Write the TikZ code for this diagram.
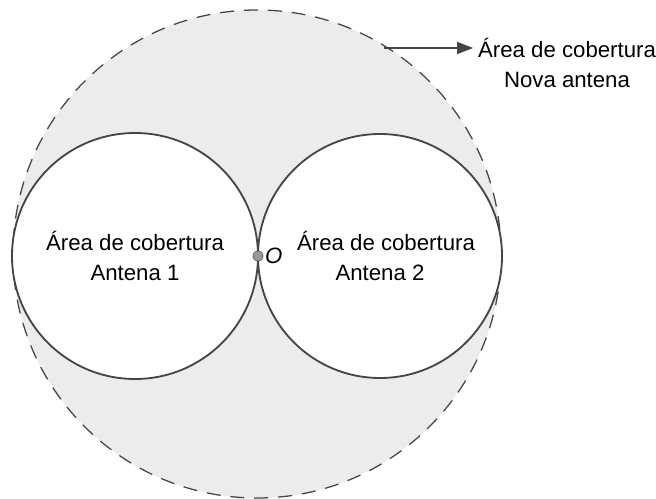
\documentclass[tikz,border=0pt]{standalone}
\usepackage{fontspec}
\setmainfont{Liberation Sans}
\usetikzlibrary{arrows.meta}
\definecolor{linegray}{HTML}{454545}
\definecolor{areagray}{HTML}{ECECEC}

\begin{document}
\begin{tikzpicture}[font=\fontsize{15.8}{21}\selectfont]
      \useasboundingbox (0,0) rectangle (16.4,-12.475);

      \node[circle, draw=linegray, dashed, dash pattern=on 10pt off 7pt, line width=0.9pt, fill=areagray, minimum size=12.2cm, inner sep=0pt] (nova) at (6.425,-6.35) {};
      \node[circle, draw=linegray, line width=1.3pt, fill=white, minimum size=6.15cm, inner sep=0pt, align=center] (ant1) at (3.375,-6.4) {Área de cobertura\\Antena 1};
      \node[circle, draw=linegray, line width=1.3pt, fill=white, minimum size=6.1cm, inner sep=0pt, align=center] (ant2) at (9.5,-6.4) {\hspace{0.3cm}Área de cobertura\\Antena 2};
      \node[circle, draw=linegray, fill=gray!80, inner sep=0pt, minimum size=2.6mm, label={[inner sep=1pt]right:\textit{O}}] (o) at (6.45,-6.4) {};

      \node[align=center] (label) at (14.175,-1.575) {Área de cobertura\\Nova antena};
      \coordinate (start) at (9.6,-1.2);
      \draw[linegray, line width=0.9pt, -{Triangle[length=4mm, width=3mm]}] (start) -- (start -| label.west);
    \end{tikzpicture}
\end{document}
